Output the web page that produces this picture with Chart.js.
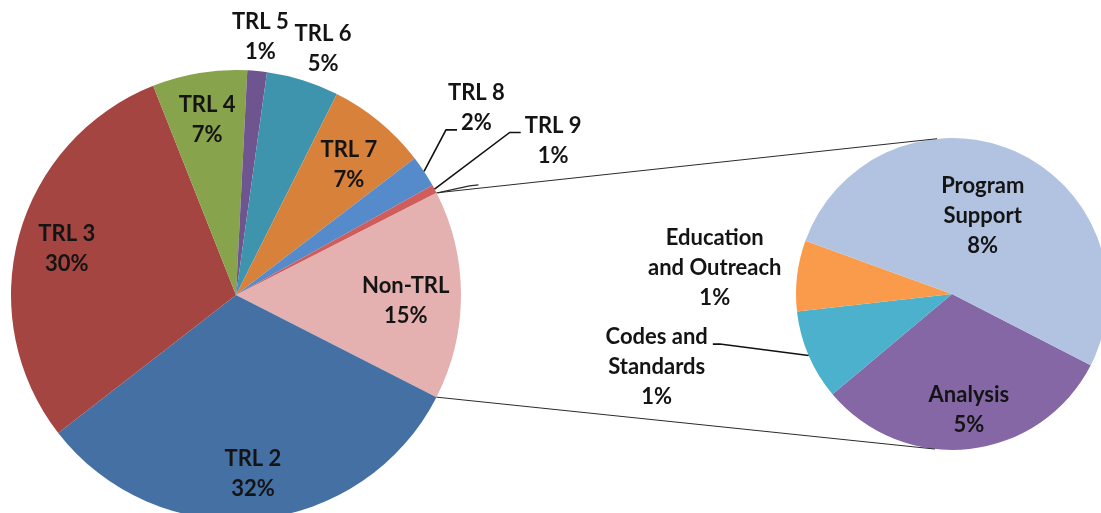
<!DOCTYPE html>
<html>
<head>
<meta charset="utf-8">
<script src="https://cdn.jsdelivr.net/npm/chart.js@4.4.1/dist/chart.umd.min.js"></script>
<style>
html, body { margin: 0; padding: 0; background: #fff; overflow: hidden; }
#wrap { position: relative; width: 1101px; height: 513px; overflow: hidden; }
#wrap canvas { position: absolute; left: 0; top: 0; }
</style>
</head>
<body>
<div id="wrap">
    <canvas id="mainPie" width="1120" height="560"></canvas>
    <canvas id="subPie" width="1120" height="560"></canvas>
</div>
<script>
// main pie, share of total (%)
const mainLabels = ['Non-TRL', 'TRL 2', 'TRL 3', 'TRL 4', 'TRL 5', 'TRL 6', 'TRL 7', 'TRL 8', 'TRL 9'];
const mainValues = [15.0, 32.0, 29.5, 6.8, 1.4, 5.2, 7.2, 2.3, 0.6];
const mainColors = ['#E5B1B0', '#4470A4', '#A54541', '#87A34B', '#6F5590', '#3E94AD', '#D8813B', '#558BCB', '#CE5D5B'];

// breakdown of Non-TRL (%)
const subLabels = ['Analysis', 'Codes and\nStandards', 'Education\nand Outreach', 'Program\nSupport'];
const subValues = [4.7, 1.4, 1.1, 7.8];
const subColors = ['#8567A6', '#4CB1CC', '#F99B4B', '#B1C3E1'];

const total = mainValues.reduce((a, b) => a + b, 0);
const FONT = 'bold 22px Lato, "Open Sans", sans-serif';
const LINE_H = 30;

// label placement: r = fraction of radius, a = angle shift in degrees
const mainPlace = [
    { r: 0.755, a: 2 }, { r: 0.8, a: 0 }, { r: 0.78, a: 0 }, { r: 0.79, a: 0 },
    { r: 1.15, a: 0 }, { r: 1.16, a: 2.2 }, { r: 0.765, a: 1.4 },
    { r: 1.354, a: -4.6, leader: { line: 1, side: 'left' } },
    { r: 1.568, a: 2.1, leader: { line: 0, side: 'left' } }
];
const subPlace = [
    { r: 0.75, a: -1.9 },
    { r: 1.95, a: 9.3, leader: { line: 0, side: 'right' } },
    { r: 1.53, a: -0.5 },
    { r: 0.54, a: -2.2 }
];

const sliceLabels = {
    id: 'sliceLabels',
    afterDraw(chart, args, opts) {
        const ctx = chart.ctx;
        const meta = chart.getDatasetMeta(0);
        const names = chart.data.labels;
        const vals = chart.data.datasets[0].data;
        ctx.save();
        ctx.font = FONT;
        ctx.fillStyle = '#141414';
        ctx.textAlign = 'center';
        ctx.textBaseline = 'middle';
        meta.data.forEach((arc, i) => {
            const p = arc.getProps(['x', 'y', 'startAngle', 'endAngle', 'outerRadius'], true);
            const place = opts.place[i];
            const mid = (p.startAngle + p.endAngle) / 2;
            const ang = mid + place.a * Math.PI / 180;
            const lx = p.x + Math.cos(ang) * p.outerRadius * place.r;
            const ly = p.y + Math.sin(ang) * p.outerRadius * place.r;
            const lines = names[i].split('\n');
            lines.push(Math.round(vals[i] / total * 100) + '%');
            const y0 = ly - (lines.length - 1) * LINE_H / 2;
            lines.forEach((t, k) => ctx.fillText(t, lx, y0 + k * LINE_H));

            if (place.leader) {
                const L = place.leader;
                const w = ctx.measureText(lines[L.line]).width;
                const ey = y0 + L.line * LINE_H + 7;
                const ex = L.side === 'left' ? lx - w / 2 - 4 : lx + w / 2 + 5;
                const bx = L.side === 'left' ? ex - 11 : ex + 7;
                const sx = p.x + Math.cos(mid) * p.outerRadius;
                const sy = p.y + Math.sin(mid) * p.outerRadius;
                ctx.beginPath();
                ctx.strokeStyle = '#111';
                ctx.lineWidth = 1.6;
                ctx.moveTo(sx, sy);
                ctx.lineTo(bx, ey);
                ctx.lineTo(ex, ey);
                ctx.stroke();
            }
        });
        ctx.restore();
    }
};

// lines from the Non-TRL slice to the breakdown pie
const connectors = {
    id: 'connectors',
    afterDraw(chart) {
        const main = mainChart.getDatasetMeta(0).data[0].getProps(['x', 'y', 'startAngle', 'endAngle', 'outerRadius'], true);
        const sub = chart.getDatasetMeta(0).data[0].getProps(['x', 'y', 'outerRadius'], true);
        const ctx = chart.ctx;
        const ax = main.x + Math.cos(main.startAngle) * main.outerRadius;
        const ay = main.y + Math.sin(main.startAngle) * main.outerRadius;
        const bx = main.x + Math.cos(main.endAngle) * main.outerRadius;
        const by = main.y + Math.sin(main.endAngle) * main.outerRadius;
        const t1 = -Math.PI / 2 - 5.5 * Math.PI / 180;
        const t2 = Math.PI / 2 + 6.3 * Math.PI / 180;
        ctx.save();
        ctx.strokeStyle = '#2a2a2a';
        ctx.lineWidth = 1;
        ctx.beginPath();
        ctx.moveTo(ax, ay);
        ctx.lineTo(sub.x + Math.cos(t1) * sub.outerRadius, sub.y + Math.sin(t1) * sub.outerRadius);
        ctx.moveTo(bx, by);
        ctx.lineTo(sub.x + Math.cos(t2) * sub.outerRadius, sub.y + Math.sin(t2) * sub.outerRadius);
        ctx.stroke();
        // small stray leader hook left in the original
        ctx.beginPath();
        ctx.lineWidth = 1.4;
        ctx.moveTo(ax + 1, ay);
        ctx.lineTo(ax + 33, ay - 7);
        ctx.lineTo(ax + 42, ay - 8);
        ctx.stroke();
        ctx.restore();
    }
};

function pieOptions(rotation, padding, place) {
    return {
        responsive: false,
        animation: false,
        rotation: rotation,
        layout: { padding: padding },
        events: [],
        plugins: {
            legend: { display: false },
            tooltip: { enabled: false },
            sliceLabels: { place: place }
        },
        elements: { arc: { borderWidth: 0 } }
    };
}

const mainChart = new Chart(document.getElementById('mainPie').getContext('2d'), {
    type: 'pie',
    data: {
        labels: mainLabels,
        datasets: [{ data: mainValues, backgroundColor: mainColors, hoverOffset: 0, borderWidth: 0 }]
    },
    options: pieOptions(63, { left: 11, top: 70, right: 659, bottom: 40 }, mainPlace),
    plugins: [sliceLabels]
});

const subChart = new Chart(document.getElementById('subPie').getContext('2d'), {
    type: 'pie',
    data: {
        labels: subLabels,
        datasets: [{ data: subValues, backgroundColor: subColors, hoverOffset: 0, borderWidth: 0 }]
    },
    options: pieOptions(117.2, { left: 796, top: 138, right: 12, bottom: 110 }, subPlace),
    plugins: [sliceLabels, connectors]
});
</script>
</body>
</html>
